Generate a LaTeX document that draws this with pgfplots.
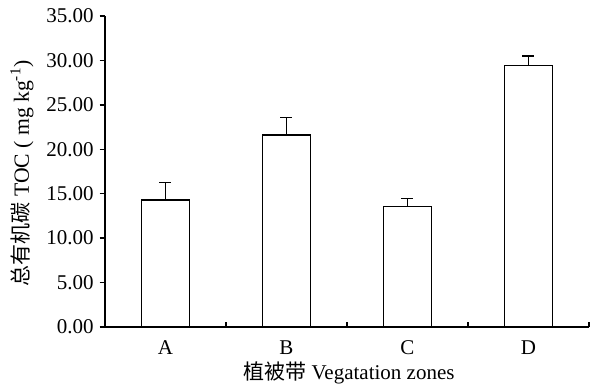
\documentclass[border=0pt]{standalone}
\usepackage{pgfplots}
\pgfplotsset{compat=1.18}
\usepackage{fontspec}
\setmainfont{Liberation Serif}
\newfontfamily\cjk{Noto Sans CJK SC}
\pgfplotstableread{
x y e
0 14.30 1.95
1 21.60 2.00
2 13.55 0.90
3 29.40 1.10
}\datatable
\begin{document}
\begin{tikzpicture}
\useasboundingbox (0,0) rectangle (450.75pt,290.25pt);
\begin{axis}[
  at={(78.75pt,45pt)}, anchor=south west,
  scale only axis, width=363pt, height=233.25pt,
  xmin=-0.5, xmax=3.5, ymin=0, ymax=35,
  axis lines*=left,
  axis line style={line width=1.1pt},
  every tick/.style={black, line width=1.1pt},
  major tick length=4pt,
  ytick={0,5,...,35},
  y tick style={xshift=-4pt},
  yticklabel style={font=\fontsize{15.75}{17}\selectfont, xshift=-5pt,
    /pgf/number format/fixed, /pgf/number format/fixed zerofill,
    /pgf/number format/precision=2, /pgf/number format/assume math mode=true},
  xtick={0.5,1.5,2.5,3.5},
  xticklabels={},
  extra x ticks={0,1,2,3},
  extra x tick labels={A,B,C,D},
  extra x tick style={major tick length=0pt, tick label style={font=\fontsize{15.75}{17}\selectfont, yshift=-7pt}},
  every axis y label/.style={at={(axis description cs:-0.1715,0.494)}, rotate=90, anchor=center},
  every axis x label/.style={at={(axis description cs:0.504,-0.148)}, anchor=center},
  ylabel={\fontsize{16.25}{18}\selectfont{\cjk\fontsize{15.75}{18}\selectfont 总有机碳} TOC ( mg kg\textsuperscript{-1})},
  xlabel={\fontsize{15.75}{18}\selectfont{\cjk 植被带} Vegatation zones},
  clip=false,
]
\addplot[ybar, bar width=0.4, fill=white, draw=black, line width=1.1pt,
  error bars/.cd, y dir=plus, y explicit,
  error bar style={line width=1.1pt},
  error mark options={rotate=90, mark size=4.5pt, line width=1.1pt}]
  table[x=x, y=y, y error=e] {\datatable};
\end{axis}
\end{tikzpicture}
\end{document}
